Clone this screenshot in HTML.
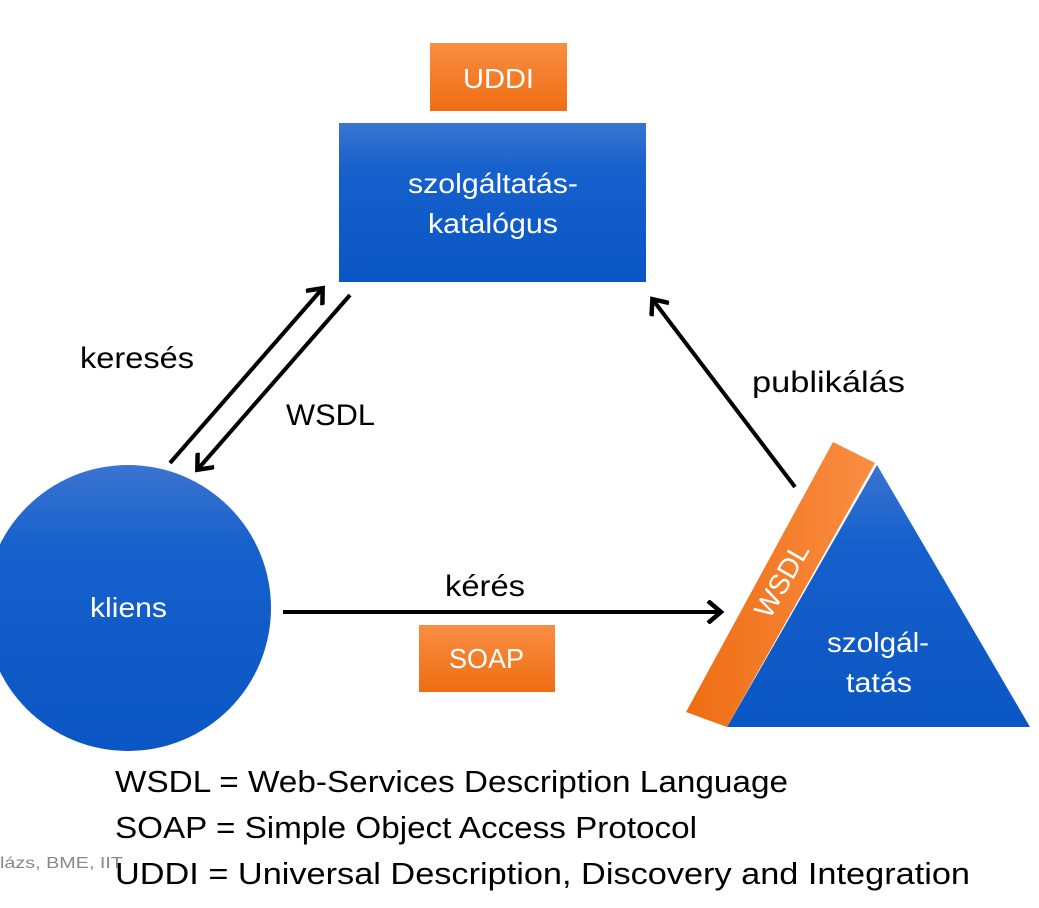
<!DOCTYPE html>
<html><head><meta charset="utf-8"><style>
body{margin:0;width:1039px;height:903px;background:#fff;overflow:hidden;font-family:"Liberation Sans",sans-serif}
</style></head><body>
<svg width="1039" height="903" xmlns="http://www.w3.org/2000/svg" font-family="Liberation Sans, sans-serif">
<defs>
<linearGradient id="b" x1="0" y1="0" x2="0" y2="1"><stop offset="0" stop-color="#3a74d0"/><stop offset="0.3" stop-color="#1560cc"/><stop offset="1" stop-color="#0a56c4"/></linearGradient>
<linearGradient id="o" x1="0" y1="0" x2="0" y2="1"><stop offset="0" stop-color="#f98e43"/><stop offset="1" stop-color="#ef6d12"/></linearGradient>
<linearGradient id="o2" x1="0" y1="0" x2="1" y2="0"><stop offset="0" stop-color="#ef6d12"/><stop offset="1" stop-color="#f98e43"/></linearGradient>
<marker id="a" markerWidth="24" markerHeight="24" refX="14" refY="12" orient="auto" markerUnits="userSpaceOnUse" viewBox="0 0 24 24"><path d="M2,1 L15,12 L2,23" fill="none" stroke="#000" stroke-width="4.5"/></marker>
</defs>
<rect x="430" y="43" width="137" height="68" fill="url(#o)"/>
<text x="463" y="88" font-size="28" fill="#fff" textLength="71" lengthAdjust="spacingAndGlyphs">UDDI</text>
<rect x="339" y="123" width="307" height="159" fill="url(#b)"/>
<text x="408" y="193" font-size="28" fill="#fff" textLength="170" lengthAdjust="spacingAndGlyphs">szolgáltatás-</text>
<text x="428" y="233" font-size="28" fill="#fff" textLength="130" lengthAdjust="spacingAndGlyphs">katalógus</text>
<circle cx="128" cy="608" r="143" fill="url(#b)"/>
<text x="90" y="617" font-size="28" fill="#fff" textLength="77" lengthAdjust="spacingAndGlyphs">kliens</text>
<polygon points="877,465 1030,727 727,727" fill="url(#b)"/>
<polygon points="833,442 875,463 727,727 686,712" fill="url(#o2)"/>
<text transform="translate(790,585) rotate(-60)" font-size="28" fill="#fff" text-anchor="middle">WSDL</text>
<text x="827" y="652" font-size="28" fill="#fff" textLength="102" lengthAdjust="spacingAndGlyphs">szolgál-</text>
<text x="846" y="692" font-size="28" fill="#fff" textLength="66" lengthAdjust="spacingAndGlyphs">tatás</text>
<rect x="419" y="625" width="136" height="67" fill="url(#o)"/>
<text x="449" y="668" font-size="28" fill="#fff" textLength="75" lengthAdjust="spacingAndGlyphs">SOAP</text>
<g stroke="#000" stroke-width="4" fill="none">
<line x1="170" y1="463" x2="322" y2="289" marker-end="url(#a)"/>
<line x1="350" y1="295" x2="198" y2="469" marker-end="url(#a)"/>
<line x1="795" y1="487" x2="653" y2="300" marker-end="url(#a)"/>
<line x1="283" y1="612" x2="720" y2="612" marker-end="url(#a)"/>
</g>
<g font-size="30" fill="#000" lengthAdjust="spacingAndGlyphs">
<text x="80" y="368" textLength="114" lengthAdjust="spacingAndGlyphs">keresés</text>
<text x="286" y="425" textLength="89" lengthAdjust="spacingAndGlyphs">WSDL</text>
<text x="752" y="392" textLength="153" lengthAdjust="spacingAndGlyphs">publikálás</text>
<text x="445" y="596" textLength="80" lengthAdjust="spacingAndGlyphs">kérés</text>
</g>
<g font-size="31" fill="#000">
<text x="115" y="792" textLength="673" lengthAdjust="spacingAndGlyphs">WSDL = Web-Services Description Language</text>
<text x="115" y="838" textLength="582" lengthAdjust="spacingAndGlyphs">SOAP = Simple Object Access Protocol</text>
<text x="115" y="884" textLength="855" lengthAdjust="spacingAndGlyphs">UDDI = Universal Description, Discovery and Integration</text>
</g>
<text x="0" y="868" font-size="16" fill="#888" textLength="123" lengthAdjust="spacingAndGlyphs">lázs, BME, IIT</text>
</svg>
</body></html>
